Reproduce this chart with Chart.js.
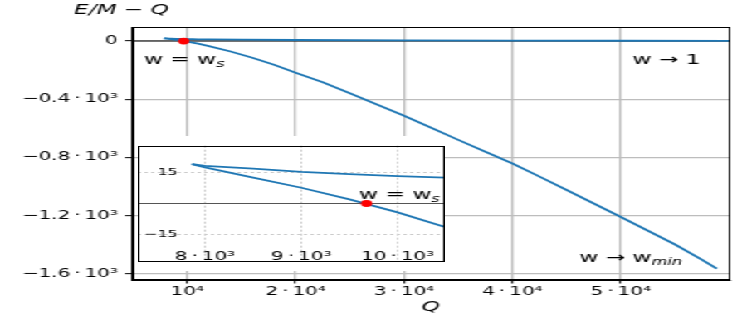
<!DOCTYPE html>
<html>
<head>
<meta charset="utf-8">
<script src="https://cdn.jsdelivr.net/npm/chart.js@4.4.1/dist/chart.umd.min.js"></script>
<style>
  html, body { margin: 0; padding: 0; background: #fff; }
  /* the reference is a wide stretch of a narrower figure */
  #stage { position: relative; width: 450px; height: 327px; transform: scaleX(1.66); transform-origin: 0 0; }
  #stage canvas { position: absolute; }
  #main { left: 0; top: 0; }
  #inset { left: 82.5px; top: 136px; }
</style>
</head>
<body>
<div id="stage">
  <canvas id="main" width="450" height="327"></canvas>
  <canvas id="inset" width="185" height="135"></canvas>
</div>
<script>
/* ── data (Q, E/M − Q) ── */
const Q_UPPER = [7865, 8000, 8500, 9000, 9500, 10000, 10500, 11000, 12000, 15000, 20000, 30000, 40000, 50000, 60000];
const E_UPPER = [19.0, 18.2, 16.8, 15.3, 14.2, 13.2, 12.5, 12.0, 11.0, 9.0, 7.0, 4.5, 3.0, 2.0, 1.5];

const Q_LOWER = [7865, 8000, 8500, 9000, 9500, 10000, 10500, 11000, 12000, 14000, 16000, 18000, 20000,
  22500, 25000, 27500, 30000, 32500, 35000, 37500, 40000, 42500, 45000, 47500, 50000, 52500, 55000, 57500, 58850];
const E_LOWER = [19.0, 17.4, 12.5, 7.6, 2.0, -4.3, -11.5, -18.5, -35, -72, -115, -163, -218,
  -284, -360, -436, -514, -596, -680, -762, -843, -933, -1025, -1118, -1211, -1305, -1400, -1505, -1565];

const WS_Q = [9677];
const WS_E = [0];

/* ── ticks ── */
const X_TICKS = [10000, 20000, 30000, 40000, 50000];
const X_TICK_LABELS = ['10\u2074', '2\u2009·\u200910\u2074', '3\u2009·\u200910\u2074', '4\u2009·\u200910\u2074', '5\u2009·\u200910\u2074'];
const Y_TICKS = [-1600, -1200, -800, -400, 0];
const Y_TICK_LABELS = ['\u22121.6\u2009·\u200910\u00b3', '\u22121.2\u2009·\u200910\u00b3', '\u22120.8\u2009·\u200910\u00b3', '\u22120.4\u2009·\u200910\u00b3', '0'];

const IN_X_TICKS = [8000, 9000, 10000];
const IN_X_TICK_LABELS = ['8\u2009·\u200910\u00b3', '9\u2009·\u200910\u00b3', '10\u2009·\u200910\u00b3'];
const IN_Y_TICKS = [-15, 15];
const IN_Y_TICK_LABELS = ['\u221215', '15'];

/* ── limits ── */
const X_MIN = 4930, X_MAX = 59980, Y_MIN = -1644, Y_MAX = 96.5;
const IN_X_MIN = 7302, IN_X_MAX = 10490, IN_Y_MIN = -27.9, IN_Y_MAX = 27.9;

const BLUE = '#1f77b4';
const FONT = '"DejaVu Sans"';
const NOTE_SIZE = 14;

Chart.defaults.font.family = FONT;
Chart.defaults.color = '#000';

function pts(xs, ys) {
  return xs.map((x, i) => ({ x: x, y: ys[i] }));
}

function datasets(xMin, xMax, zeroColor) {
  return [
    { data: pts([xMin, xMax], [0, 0]), showLine: true, borderColor: zeroColor, borderWidth: 1, pointRadius: 0, order: 3 },
    { data: pts(Q_UPPER, E_UPPER), showLine: true, borderColor: BLUE, borderWidth: 1.8, pointRadius: 0, order: 1 },
    { data: pts(Q_LOWER, E_LOWER), showLine: true, borderColor: BLUE, borderWidth: 1.8, pointRadius: 0, order: 1 },
    { data: pts(WS_Q, WS_E), showLine: false, pointRadius: 3.4, pointBackgroundColor: '#ff0000', pointBorderWidth: 0, order: 0 }
  ];
}

function subText(ctx, main, sub, x, y, size) {
  ctx.font = size + 'px ' + FONT;
  ctx.fillText(main, x, y);
  const w = ctx.measureText(main).width;
  ctx.font = 'italic ' + (size * 0.7) + 'px ' + FONT;
  ctx.fillText(sub, x + w, y + size * 0.22);
}

/* ── white background + frame ── */
const framePlugin = {
  id: 'frame',
  beforeDraw(chart) {
    const ctx = chart.ctx;
    ctx.save();
    ctx.fillStyle = '#fff';
    ctx.fillRect(0, 0, chart.width, chart.height);
    ctx.restore();
  },
  afterDraw(chart) {
    const a = chart.chartArea, ctx = chart.ctx;
    ctx.save();
    ctx.strokeStyle = '#000';
    ctx.lineWidth = 1;
    ctx.strokeRect(Math.round(a.left) + 0.5, Math.round(a.top) + 0.5,
      Math.round(a.right - a.left) - 1, Math.round(a.bottom - a.top) - 1);
    ctx.restore();
  }
};

/* ── labels for the main plot ── */
const mainText = {
  id: 'mainText',
  afterDraw(chart) {
    const ctx = chart.ctx;
    ctx.save();
    ctx.fillStyle = '#000';
    ctx.textBaseline = 'alphabetic';
    ctx.font = 'italic 14px ' + FONT;
    ctx.textAlign = 'left';
    ctx.fillText('E/M \u2212 Q', 44.6, 14);
    ctx.textAlign = 'center';
    ctx.fillText('Q', (chart.chartArea.left + chart.chartArea.right) / 2, 310.5);
    ctx.textAlign = 'left';
    subText(ctx, 'w = w', 's', 86.7, 64.3, NOTE_SIZE);
    ctx.font = NOTE_SIZE + 'px ' + FONT;
    ctx.fillText('w \u2192 1', 381, 64.3);
    subText(ctx, 'w \u2192 w', 'min', 349, 261.7, NOTE_SIZE);
    ctx.restore();
  }
};

const insetText = {
  id: 'insetText',
  afterDraw(chart) {
    const ctx = chart.ctx;
    ctx.save();
    ctx.fillStyle = '#000';
    subText(ctx, 'w = w', 's', 133.3, 62.5, NOTE_SIZE);
    ctx.restore();
  }
};

/* ── main chart ── */
new Chart(document.getElementById('main'), {
  type: 'scatter',
  data: { datasets: datasets(X_MIN, X_MAX, '#000') },
  options: {
    responsive: false,
    animation: false,
    devicePixelRatio: 1,
    layout: { autoPadding: false, padding: { left: 0, right: 10.8, top: 27, bottom: 0 } },
    plugins: { legend: { display: false }, tooltip: { enabled: false } },
    scales: {
      x: {
        type: 'linear', min: X_MIN, max: X_MAX,
        afterBuildTicks: axis => { axis.ticks = X_TICKS.map(v => ({ value: v })); },
        afterFit: axis => { axis.height = 47; },
        ticks: { autoSkip: false, maxRotation: 0, padding: 1, color: '#000', font: { size: 12 },
          callback: v => X_TICK_LABELS[X_TICKS.indexOf(v)] },
        grid: { color: '#bdbdbd', lineWidth: 1.3, tickColor: '#000', tickLength: 3.5, tickWidth: 1 },
        border: { color: '#000', width: 1 }
      },
      y: {
        type: 'linear', min: Y_MIN, max: Y_MAX,
        afterBuildTicks: axis => { axis.ticks = Y_TICKS.map(v => ({ value: v })); },
        afterFit: axis => { axis.width = 79.7; },
        ticks: { autoSkip: false, padding: 4.2, color: '#000', font: { size: 12 },
          callback: v => Y_TICK_LABELS[Y_TICKS.indexOf(v)] },
        grid: { color: '#bdbdbd', lineWidth: 1.3, tickColor: '#000', tickLength: 4.5, tickWidth: 1 },
        border: { color: '#000', width: 1 }
      }
    }
  },
  plugins: [framePlugin, mainText]
});

/* ── inset chart (labels sit inside the frame) ── */
new Chart(document.getElementById('inset'), {
  type: 'scatter',
  data: { datasets: datasets(IN_X_MIN, IN_X_MAX, '#555') },
  options: {
    responsive: false,
    animation: false,
    devicePixelRatio: 1,
    layout: { autoPadding: false, padding: 0 },
    plugins: { legend: { display: false }, tooltip: { enabled: false } },
    scales: {
      x: {
        type: 'linear', min: IN_X_MIN, max: IN_X_MAX,
        afterBuildTicks: axis => { axis.ticks = IN_X_TICKS.map(v => ({ value: v })); },
        afterFit: axis => { axis.height = 0; },
        ticks: { mirror: true, autoSkip: false, maxRotation: 0, padding: -3, color: '#000', font: { size: 12 },
          callback: v => IN_X_TICK_LABELS[IN_X_TICKS.indexOf(v)] },
        grid: { color: '#cccccc', lineWidth: 1, drawTicks: false },
        border: { display: false, dash: [2, 2] }
      },
      y: {
        type: 'linear', min: IN_Y_MIN, max: IN_Y_MAX,
        afterBuildTicks: axis => { axis.ticks = IN_Y_TICKS.map(v => ({ value: v })); },
        afterFit: axis => { axis.width = 0; },
        ticks: { mirror: true, crossAlign: 'far', autoSkip: false, padding: 4, color: '#000', font: { size: 9.5 },
          callback: v => IN_Y_TICK_LABELS[IN_Y_TICKS.indexOf(v)] },
        grid: { color: '#cccccc', lineWidth: 1, drawTicks: false },
        border: { display: false, dash: [2, 2] }
      }
    }
  },
  plugins: [framePlugin, insetText]
});
</script>
</body>
</html>
